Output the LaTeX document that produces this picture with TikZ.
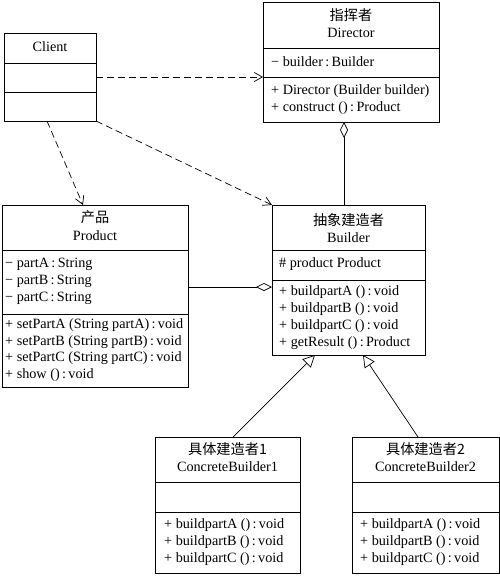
\documentclass[tikz,border=0pt]{standalone}
\usepackage{fontspec}
\setmainfont{Liberation Serif}
\newfontfamily\cjk{Noto Sans CJK SC}
\usetikzlibrary{arrows.meta,calc}
\tikzset{
  box/.style={draw, line width=0.8pt, inner sep=0pt, outer sep=0pt, anchor=north west},
  divider/.style={line width=0.8pt},
  txt/.style={inner sep=0pt, font=\fontsize{14.2}{16}\selectfont, text height=9.5pt, text depth=3pt},
  ltxt/.style={txt, anchor=west},
  dep/.style={line width=0.7pt, dash pattern=on 7pt off 4pt, -{Straight Barb[length=8pt,width=9pt]}},
  inh/.style={line width=0.7pt, -{Triangle[open,length=12pt,width=12pt]}},
  agg/.style={line width=0.7pt, -{Diamond[open,length=16pt,width=8pt]}},
}
\begin{document}
\begin{tikzpicture}[x=1pt,y=-1pt]
\useasboundingbox (0,0) rectangle (500,576);
% Client
\node[box, minimum width=92pt, minimum height=88pt] (client) at (4,33) {};
\draw[divider] (4,63) -- (96,63);
\draw[divider] (4,92) -- (96,92);
\node[txt] (clientname) at (50,48) {Client};
% Director
\node[box, minimum width=176pt, minimum height=120pt] (director) at (263,2) {};
\draw[divider] (263,48) -- (439,48);
\draw[divider] (263,77) -- (439,77);
\node[txt] (dircn) at (351,17) {\cjk 指挥者};
\node[txt] (diren) at (351,34) {Director};
\node[ltxt] (dira1) at (271,63) {− builder\,:\,Builder};
\node[ltxt] (dirm1) at (271,91) {+ Director (Builder builder)};
\node[ltxt] (dirm2) at (271,108) {+ construct ()\,:\,Product};
% Builder
\node[box, minimum width=153pt, minimum height=150pt] (builder) at (272,205) {};
\draw[divider] (272,250) -- (425,250);
\draw[divider] (272,280) -- (425,280);
\node[txt] (bcn) at (348.5,222) {\cjk 抽象建造者};
\node[txt] (ben) at (348.5,239) {Builder};
\node[ltxt] (ba1) at (279,264) {\# product Product};
\node[ltxt] (bm1) at (279,292) {+ buildpartA ()\,:\,void};
\node[ltxt] (bm2) at (279,309) {+ buildpartB ()\,:\,void};
\node[ltxt] (bm3) at (279,326) {+ buildpartC ()\,:\,void};
\node[ltxt] (bm4) at (279,343) {+ getResult ()\,:\,Product};
% Product
\node[box, minimum width=186pt, minimum height=182pt] (product) at (2,205) {};
\draw[divider] (2,250) -- (188,250);
\draw[divider] (2,314) -- (188,314);
\node[txt] (pcn) at (95,219) {\cjk 产品};
\node[txt] (pen) at (95,237) {Product};
\node[ltxt] (pa1) at (5,264) {− partA\,:\,String};
\node[ltxt] (pa2) at (5,281) {− partB\,:\,String};
\node[ltxt] (pa3) at (5,298) {− partC\,:\,String};
\node[ltxt] (pm1) at (5,325) {+ setPartA (String partA)\,:\,void};
\node[ltxt] (pm2) at (5,342) {+ setPartB (String partB)\,:\,void};
\node[ltxt] (pm3) at (5,358) {+ setPartC (String partC)\,:\,void};
\node[ltxt] (pm4) at (5,375) {+ show ()\,:\,void};
% ConcreteBuilder1
\node[box, minimum width=145pt, minimum height=136pt] (cb1) at (155,437) {};
\draw[divider] (155,482) -- (300,482);
\draw[divider] (155,512) -- (300,512);
\node[txt] (c1cn) at (227.5,451) {\cjk 具体建造者1};
\node[txt] (c1en) at (227.5,468) {ConcreteBuilder1};
\node[ltxt] (c1m1) at (164,525) {+ buildpartA ()\,:\,void};
\node[ltxt] (c1m2) at (164,542) {+ buildpartB ()\,:\,void};
\node[ltxt] (c1m3) at (164,559) {+ buildpartC ()\,:\,void};
% ConcreteBuilder2
\node[box, minimum width=147pt, minimum height=136pt] (cb2) at (352,437) {};
\draw[divider] (352,482) -- (499,482);
\draw[divider] (352,512) -- (499,512);
\node[txt] (c2cn) at (425.5,451) {\cjk 具体建造者2};
\node[txt] (c2en) at (425.5,468) {ConcreteBuilder2};
\node[ltxt] (c2m1) at (360,525) {+ buildpartA ()\,:\,void};
\node[ltxt] (c2m2) at (360,542) {+ buildpartB ()\,:\,void};
\node[ltxt] (c2m3) at (360,559) {+ buildpartC ()\,:\,void};
% connectors
\draw[dep] (client.east) -- (client.east -| director.west);
\draw[dep] ([xshift=-3pt]client.south) -- ([xshift=-12pt]product.north);
\draw[dep] (client.south east) -- (builder.north west);
\coordinate (btop) at ([xshift=-4.5pt]builder.north);
\draw[agg] (btop) -- (btop |- director.south);
\coordinate (bleft) at ([yshift=-7pt]builder.west);
\draw[agg] (bleft -| product.east) -- (bleft);
\draw[inh] ([xshift=5.5pt]cb1.north) -- ([xshift=-33.5pt]builder.south);
\draw[inh] ([xshift=-7.5pt]cb2.north) -- ([xshift=14.5pt]builder.south);
\end{tikzpicture}
\end{document}
